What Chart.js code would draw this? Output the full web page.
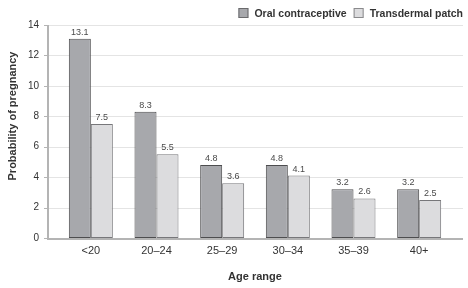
<!DOCTYPE html>
<html>
<head>
<meta charset="utf-8">
<script src="https://cdn.jsdelivr.net/npm/chart.js@4"></script>
<style>
  html, body { margin: 0; padding: 0; background: #fff; }
  #wrap { width: 468px; height: 288px; }
</style>
</head>
<body>
<div id="wrap"><canvas id="chart" width="468" height="288"></canvas></div>
<script>
'use strict';

/* data */
const ageGroups   = ['<20', '20–24', '25–29', '30–34', '35–39', '40+'];
const oralValues  = [13.1, 8.3, 4.8, 4.8, 3.2, 3.2];
const patchValues = [7.5, 5.5, 3.6, 4.1, 2.6, 2.5];
const seriesNames = ['Oral contraceptive', 'Transdermal patch'];
const yTitle = 'Probability of pregnancy';
const yMax = 14;
const yStep = 2;

const FONT = '"Liberation Sans", Arial, sans-serif';
const ORAL_FILL = '#a7a8ac', ORAL_EDGE = '#4d4d4f';
const PATCH_FILL = '#dcdcde', PATCH_EDGE = '#77777a';

/* grid, axis lines, value labels, y title and legend drawn by hand */
const decor = {
    id: 'decor',
    beforeDatasetsDraw(chart) {
        const { ctx, scales: { y }, chartArea } = chart;
        const x0 = chartArea.left - 10, x1 = chartArea.right + 11;
        ctx.save();
        ctx.strokeStyle = '#e4e4e4';
        ctx.lineWidth = 1;
        for (let v = yStep; v <= yMax; v += yStep) {
            const py = Math.round(y.getPixelForValue(v)) + 0.5;
            ctx.beginPath(); ctx.moveTo(x0, py); ctx.lineTo(x1, py); ctx.stroke();
        }
        ctx.restore();
    },
    afterDatasetsDraw(chart) {
        const { ctx, scales: { y }, chartArea } = chart;
        const x0 = chartArea.left - 10, x1 = chartArea.right + 11;
        const base = y.getPixelForValue(0);
        ctx.save();
        // axes
        ctx.strokeStyle = '#b4b4b4';
        ctx.lineWidth = 2;
        ctx.beginPath();
        ctx.moveTo(x0, y.getPixelForValue(yMax));
        ctx.lineTo(x0, base + 1);
        ctx.lineTo(x1, base + 1);
        ctx.stroke();
        ctx.lineWidth = 1;
        for (let v = 0; v <= yMax; v += yStep) {
            const py = Math.round(y.getPixelForValue(v)) + 0.5;
            ctx.beginPath(); ctx.moveTo(x0 - 4, py); ctx.lineTo(x0, py); ctx.stroke();
        }
        // value labels
        ctx.fillStyle = '#4a4a4a';
        ctx.font = '9px ' + FONT;
        ctx.textAlign = 'center';
        ctx.textBaseline = 'bottom';
        chart.data.datasets.forEach((ds, i) => {
            chart.getDatasetMeta(i).data.forEach((bar, j) => {
                ctx.fillText(ds.data[j].toFixed(1), bar.x, bar.y - 2);
            });
        });
        // y axis title
        ctx.save();
        ctx.translate(13, 116);
        ctx.rotate(-Math.PI / 2);
        ctx.font = 'bold 11px ' + FONT;
        ctx.fillStyle = '#333';
        ctx.textBaseline = 'middle';
        ctx.fillText(yTitle, 0, 0);
        ctx.restore();
        // legend, laid out from the right edge
        ctx.font = 'bold 10.5px ' + FONT;
        ctx.textAlign = 'left';
        ctx.textBaseline = 'middle';
        const fills = [ORAL_FILL, PATCH_FILL], edges = ['#6a6a6c', '#8a8a8c'];
        const widths = seriesNames.map(n => ctx.measureText(n).width);
        let lx = 463 - (widths[0] + widths[1] + 2 * 16 + 7);
        const ly = 13;
        seriesNames.forEach((name, i) => {
            ctx.fillStyle = fills[i];
            ctx.fillRect(lx, ly - 5, 10, 10);
            ctx.strokeStyle = edges[i];
            ctx.strokeRect(lx + 0.5, ly - 4.5, 9, 9);
            ctx.fillStyle = '#333';
            ctx.fillText(name, lx + 16, ly + 1);
            lx += 16 + widths[i] + 7;
        });
        ctx.restore();
    }
};

new Chart(document.getElementById('chart').getContext('2d'), {
    type: 'bar',
    data: {
        labels: ageGroups,
        datasets: [
            { label: seriesNames[0], data: oralValues, backgroundColor: ORAL_FILL, borderColor: ORAL_EDGE, borderWidth: 1, borderSkipped: false },
            { label: seriesNames[1], data: patchValues, backgroundColor: PATCH_FILL, borderColor: PATCH_EDGE, borderWidth: 1, borderSkipped: false },
        ],
    },
    options: {
        responsive: false,
        animation: false,
        layout: { padding: { top: 20, right: 16, left: 0, bottom: 0 } },
        datasets: { bar: { categoryPercentage: 0.67, barPercentage: 1 } },
        plugins: { legend: { display: false }, tooltip: { enabled: false } },
        scales: {
            x: {
                grid: { display: false, drawTicks: false },
                border: { display: false },
                ticks: { color: '#333', font: { size: 11, family: FONT }, padding: 6 },
                title: { display: true, text: 'Age range', color: '#333', font: { size: 11, weight: 'bold', family: FONT }, padding: { top: 4, bottom: 4 } },
                afterFit: s => { s.height = 50; },
            },
            y: {
                min: 0, max: yMax,
                grid: { display: false, drawTicks: false },
                border: { display: false },
                ticks: { stepSize: yStep, color: '#333', font: { size: 10, family: FONT }, padding: 19 },
                afterFit: s => { s.width = 58; },
            },
        },
    },
    plugins: [decor],
});
</script>
</body>
</html>
